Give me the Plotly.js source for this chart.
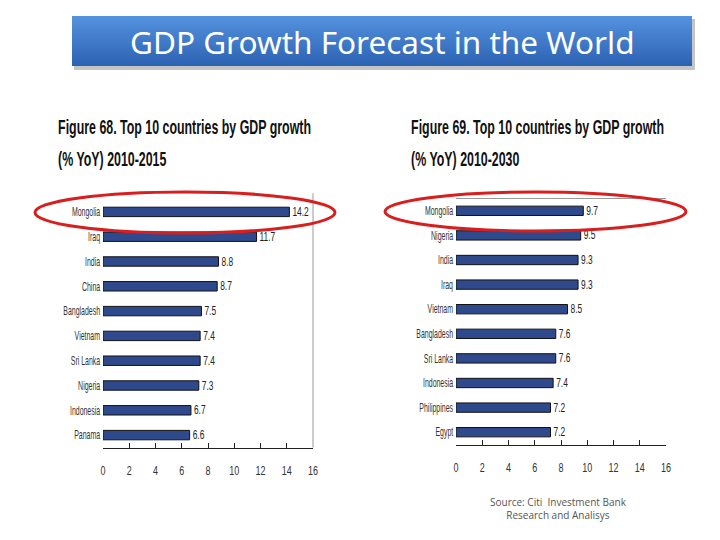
<!DOCTYPE html>
<html>
<head>
<meta charset="utf-8">
<script src="https://cdn.plot.ly/plotly-3.0.1.min.js"></script>
<style>html,body{margin:0;padding:0;background:#fff;}#chart{width:720px;height:540px;}</style>
</head>
<body>
<div id="chart"></div>
<script>
// Data
const countries2015 = ["Mongolia","Iraq","India","China","Bangladesh","Vietnam","Sri Lanka","Nigeria","Indonesia","Panama"];
const growth2015 = [14.2, 11.7, 8.8, 8.7, 7.5, 7.4, 7.4, 7.3, 6.7, 6.6];
const countries2030 = ["Mongolia","Nigeria","India","Iraq","Vietnam","Bangladesh","Sri Lanka","Indonesia","Philippines","Egypt"];
const growth2030 = [9.7, 9.5, 9.3, 9.3, 8.5, 7.6, 7.6, 7.4, 7.2, 7.2];
const xTicks = [0, 2, 4, 6, 8, 10, 12, 14, 16];

const mainTitle = "GDP Growth Forecast in the World";
const fig68Title = ["Figure 68. Top 10 countries by GDP growth", "(% YoY) 2010-2015"];
const fig69Title = ["Figure 69. Top 10 countries by GDP growth", "(% YoY) 2010-2030"];
const sourceText = "Source: Citi  Investment Bank<br>Research and Analisys";

const narrow = "Liberation Sans, Arial, sans-serif";
const barColor = "#2E4A8C";

function barTrace(cats, vals, xa, ya) {
  return {
    type: "bar", orientation: "h", x: vals, y: cats, xaxis: xa, yaxis: ya,
    marker: {color: barColor, line: {color: "#111", width: 1}},
    width: 0.38,
    text: vals.map(v => v.toFixed(1)), textposition: "outside", cliponaxis: false, constraintext: "none",
    textfont: {family: narrow, size: 12, color: "#222"},
    hoverinfo: "skip", showlegend: false
  };
}

const data = [
  barTrace(countries2015, growth2015, "x", "y"),
  barTrace(countries2030, growth2030, "x2", "y2")
];

function xAxis(domain, anchor) {
  return {
    domain: domain, anchor: anchor, range: [0, 16], tickvals: xTicks, ticktext: xTicks.map(String),
    showgrid: false, zeroline: false, showline: true, linecolor: "#222", linewidth: 1,
    ticks: "inside", ticklen: 5, tickcolor: "#222", ticklabelstandoff: 12,
    tickfont: {family: narrow, size: 12, color: "#333"}, fixedrange: true
  };
}
function yAxis(domain, anchor) {
  return {
    domain: domain, anchor: anchor, autorange: "reversed", type: "category",
    showgrid: false, zeroline: false, showline: false, ticks: "",
    ticklabelstandoff: 2,
    tickfont: {family: narrow, size: 12, color: "#333"}, fixedrange: true
  };
}

// title box gradient (style only)
const shapes = [];
shapes.push({type: "rect", xref: "paper", yref: "paper", x0: 74/720, x1: 695/720, y0: 1-70/540, y1: 1-19/540,
  fillcolor: "rgba(90,90,90,0.35)", line: {width: 0}, layer: "below"});
const n = 50;
for (let i = 0; i < n; i++) {
  const t = i / (n - 1);
  const r = Math.round(84 + (44 - 84) * t), g = Math.round(146 + (98 - 146) * t), b = Math.round(222 + (178 - 222) * t);
  shapes.push({type: "rect", xref: "paper", yref: "paper", x0: 72/720, x1: 692/720,
    y1: 1 - (16 + 50 * i / n)/540, y0: 1 - (16 + 50 * (i + 1) / n)/540,
    fillcolor: `rgb(${r},${g},${b})`, line: {width: 0}, layer: "below"});
}
// frame lines
shapes.push({type: "line", xref: "x domain", yref: "y domain", x0: 1, x1: 1, y0: 0, y1: 1.025, line: {color: "#999", width: 1}});
shapes.push({type: "line", xref: "x2 domain", yref: "y2 domain", x0: 0, x1: 1, y0: 1, y1: 1, line: {color: "#999", width: 1}});
// red highlight ellipses
shapes.push({type: "circle", xref: "paper", yref: "paper", x0: 35/720, x1: 335/720, y0: 1-233/540, y1: 1-192/540,
  line: {color: "#D81E1E", width: 3}});
shapes.push({type: "circle", xref: "paper", yref: "paper", x0: 385/720, x1: 686/720, y0: 1-231/540, y1: 1-192/540,
  line: {color: "#D81E1E", width: 3}});

const figFont = {family: narrow, size: 20, color: "#111", weight: "bold"};
const annotations = [
  {text: mainTitle, xref: "paper", yref: "paper", x: 382/720, y: 1-42/540, showarrow: false,
   font: {family: "Noto Sans, Open Sans, sans-serif", size: 31.5, color: "#fff"}, xanchor: "center", yanchor: "middle"},
  {text: fig68Title[0], xref: "paper", yref: "paper", x: 56/720, y: 1-127/540, showarrow: false, xanchor: "left", yanchor: "middle", font: figFont},
  {text: fig68Title[1], xref: "paper", yref: "paper", x: 56/720, y: 1-159/540, showarrow: false, xanchor: "left", yanchor: "middle", font: figFont},
  {text: fig69Title[0], xref: "paper", yref: "paper", x: 409/720, y: 1-127/540, showarrow: false, xanchor: "left", yanchor: "middle", font: figFont},
  {text: fig69Title[1], xref: "paper", yref: "paper", x: 409/720, y: 1-159/540, showarrow: false, xanchor: "left", yanchor: "middle", font: figFont},
  {text: sourceText, xref: "paper", yref: "paper", x: 558/720, y: 1-509/540, showarrow: false, xanchor: "center", yanchor: "middle",
   align: "center", font: {family: "Open Sans, Noto Sans, sans-serif", size: 10, color: "#555"}}
];

const layout = {
  width: 720, height: 540, margin: {l: 0, r: 0, t: 0, b: 0},
  paper_bgcolor: "#fff", plot_bgcolor: "rgba(0,0,0,0)",
  xaxis: xAxis([103/720, 313/720], "y"),
  yaxis: yAxis([1-447.5/540, 1-199.5/540], "x"),
  xaxis2: xAxis([456/720, 666/720], "y2"),
  yaxis2: yAxis([1-444.5/540, 1-198.5/540], "x2"),
  shapes: shapes, annotations: annotations, bargap: 0.6
};

// horizontally condense rendered text (the source uses a very narrow typeface)
function condense(el, s, anchor) {
  const bb = el.getBBox();
  const ax = anchor === "left" ? bb.x : anchor === "right" ? bb.x + bb.width : bb.x + bb.width / 2;
  const prev = el.getAttribute("transform") || "";
  el.setAttribute("transform", prev + ` translate(${ax},0) scale(${s},1) translate(${-ax},0)`);
}

Plotly.newPlot("chart", data, layout, {displayModeBar: false, staticPlot: true}).then(gd => {
  gd.querySelectorAll(".ytick text, .y2tick text").forEach(t => condense(t, 0.58, "right"));
  gd.querySelectorAll(".xtick text, .x2tick text").forEach(t => condense(t, 0.75, "center"));
  gd.querySelectorAll(".bars .point text, .bartext").forEach(t => condense(t, 0.7, "left"));
  const anns = gd.querySelectorAll(".annotation-text");
  for (let i = 1; i <= 4; i++) condense(anns[i], 0.62, "left");
});
</script>
</body>
</html>
